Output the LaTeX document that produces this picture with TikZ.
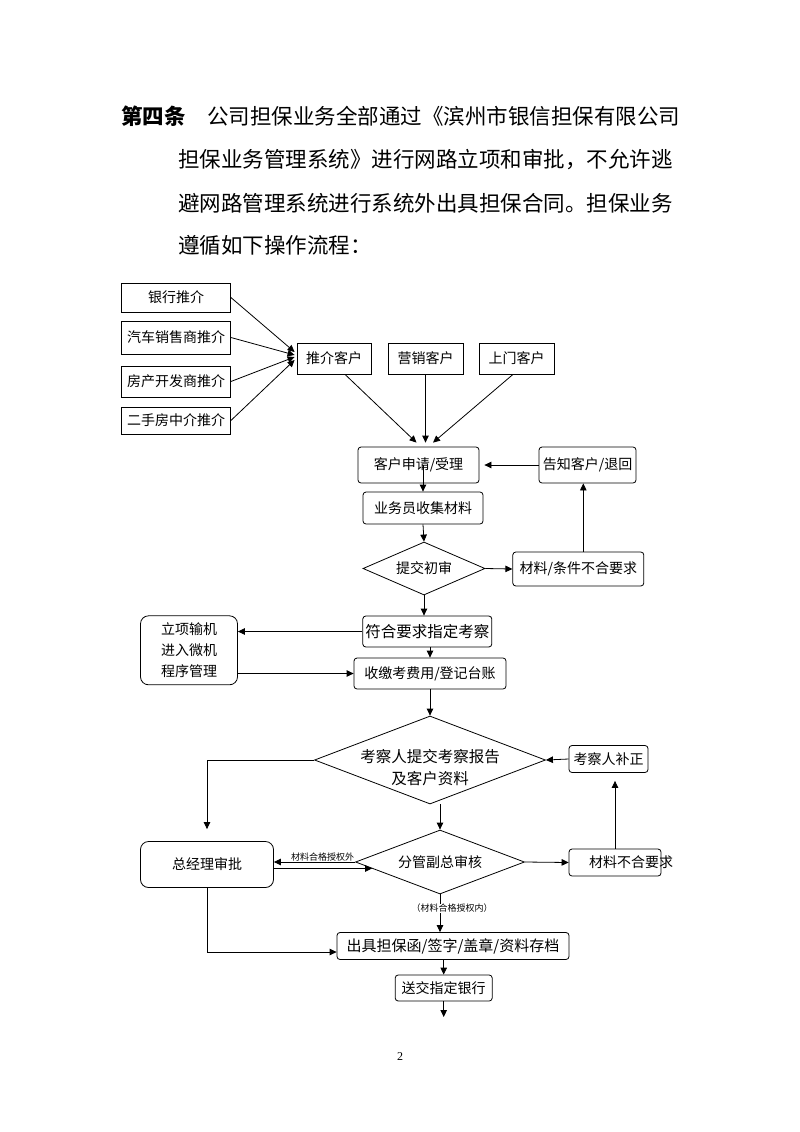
\documentclass[tikz,border=0pt]{standalone}
\usepackage{fontspec}
\setmainfont{Liberation Serif}
\newfontfamily\cjk{Noto Sans CJK SC}
\usetikzlibrary{arrows.meta,shapes.geometric,calc,positioning}

\begin{document}
\begin{tikzpicture}[
  x=1pt, y=-1pt, >={Triangle[length=7pt,width=6.5pt]}, line width=0.8pt,
  font=\cjk\fontsize{14}{21}\selectfont,
  box/.style={draw, inner sep=0pt, align=center},
  rbox/.style={box, rounded corners=3pt},
  dia/.style={diamond, draw, inner sep=0pt},
  head/.style={anchor=west, inner sep=0pt, font=\cjk\fontsize{21.5}{26}\selectfont},
  note/.style={inner sep=0.5pt, font=\cjk\fontsize{9}{10}\selectfont}
]
\useasboundingbox (0,0) rectangle (800,1132);

\node[head] (h1) at (121,116) {\textbf{第四条}\hspace{1em}公司担保业务全部通过《滨州市银信担保有限公司};
\node[head] (h2) at (178,160) {担保业务管理系统》进行网路立项和审批，不允许逃};
\node[head] (h3) at (178,203) {避网路管理系统进行系统外出具担保合同。担保业务};
\node[head] (h4) at (178,245) {遵循如下操作流程：};

\node[box, minimum width=109pt, minimum height=29pt] (yh) at (176,297.5) {银行推介};
\node[box, minimum width=109pt, minimum height=33pt] (qc) at (176,337.5) {汽车销售商推介};
\node[box, minimum width=109pt, minimum height=31pt] (fc) at (176,381.5) {房产开发商推介};
\node[box, minimum width=109pt, minimum height=27pt] (es) at (176,420.5) {二手房中介推介};

\node[box, minimum width=74pt, minimum height=31pt] (tj) at (334,358.5) {推介客户};
\node[box, minimum width=75pt, minimum height=31pt] (yx) at (425.5,358.5) {营销客户};
\node[box, minimum width=75pt, minimum height=31pt] (sm) at (516.5,358.5) {上门客户};

\node[rbox, minimum width=121pt, minimum height=36pt] (sq) at (418.5,465) {客户申请/受理};
\node[rbox, minimum width=97pt, minimum height=36pt] (gz) at (587.5,465) {告知客户/退回};
\node[rbox, minimum width=120pt, minimum height=32pt] (ywy) at (423,508) {业务员收集材料};
\node[dia, aspect=2.3, minimum width=122pt, minimum height=53pt] (cs) at (424,568.5) {提交初审};
\node[rbox, minimum width=131pt, minimum height=34pt] (bh1) at (578.3,569) {材料/条件不合要求};
\node[rbox, minimum width=129pt, minimum height=31pt, font=\cjk\fontsize{15.5}{20}\selectfont] (fh) at (427.3,631.5) {符合要求指定考察};
\node[box, rounded corners=8pt, minimum width=97pt, minimum height=69pt] (lx) at (189,650.3) {立项输机\\进入微机\\程序管理};
\node[rbox, minimum width=152pt, minimum height=31pt] (js) at (430,673.5) {收缴考费用/登记台账};

\node[dia, minimum width=231pt, minimum height=88pt,
  label={[yshift=-8pt, align=center, font=\cjk\fontsize{15.5}{22}\selectfont]center:{考察人提交考察报告\\及客户资料}}] (kc) at (430,760) {};
\node[rbox, minimum width=79pt, minimum height=27pt] (bz) at (608.5,759) {考察人补正};
\node[dia, aspect=2.64, minimum width=169pt, minimum height=64pt] (fg) at (440,862) {分管副总审核};
\node[rbox, minimum width=92pt, minimum height=27pt, label={[xshift=16pt]center:材料不合要求}] (bh2) at (615,862.5) {};
\node[box, rounded corners=8pt, minimum width=133pt, minimum height=46pt] (zjl) at (207,864.5) {总经理审批};

\node[rbox, minimum width=232pt, minimum height=27pt, font=\cjk\fontsize{15}{20}\selectfont] (cj) at (453,946) {出具担保函/签字/盖章/资料存档};
\node[rbox, minimum width=97pt, minimum height=26pt] (sj) at (443.7,988) {送交指定银行};
\coordinate (out) at (443.7,1017);

\node[font=\rmfamily\fontsize{12}{14}\selectfont] (pg) at (400,1057) {2};

\draw[->] (yh.east) -- ($(tj.west)+(-2,-6.5)$);
\draw[->] (qc.east) -- ($(tj.west)+(-2,-3.5)$);
\draw[->] (fc.east) -- ($(tj.west)+(-2,-1.5)$);
\draw[->] (es.east) -- ($(tj.west)+(-2,1.5)$);

\draw[->] ($(tj.south)+(11,0)$) -- ($(sq.north)+(-2,-4)$);
\draw[->, shorten >=4pt] (yx.south) -- (yx.south |- sq.north);
\draw[->] ($(sm.south)+(-3.5,0)$) -- ($(sq.north)+(14.5,-4)$);
\draw[->, shorten >=5pt] (gz.west) -- (sq.east);
\draw[->] (ywy.north |- sq.center) -- (ywy.north);
\draw[->] (ywy.south) -- (cs.north);
\draw[->] (cs.east) -- (bh1.west);
\coordinate (b1t) at ($(bh1.north)+(5,0)$);
\draw[->] (b1t) -- (b1t |- gz.south);
\draw[->] (cs.south) -- (cs.south |- fh.north);
\draw[->] (fh.west) -- (fh.west -| lx.east);
\draw[->] (lx.east |- js.west) -- (js.west);
\draw[->] (js.north |- fh.south) -- (js.north);
\draw[->] (js.south) -- (js.south |- kc.north);

\draw[->, shorten >=12pt] (kc.west) -| (zjl.north);
\draw[->] (bz.west) -- (kc.east);
\draw[->] (fg.north |- kc.south) -- (fg.north);
\draw[->] (fg.east) -- (bh2.west);
\draw[->, shorten >=8pt] (bh2.north) -- (bh2.north |- bz.south);

\draw[->] (fg.west) -- (fg.west -| zjl.east) node[note, pos=0, anchor=south east] {材料合格授权外};
\coordinate (fgin) at ($(fg.west)!0.2!(fg.south)$);
\draw[->] (zjl.east |- fgin) -- (fgin);
\draw[->] (fg.south) -- (fg.south |- cj.north) node[note, pos=0.37, fill=white, xshift=12pt] {（材料合格授权内）};
\draw[->] (zjl.south) |- ([yshift=-6pt]cj.west);
\draw[->] (sj.north |- cj.south) -- (sj.north);
\draw[->] (sj.south) -- (out);
\end{tikzpicture}
\end{document}
